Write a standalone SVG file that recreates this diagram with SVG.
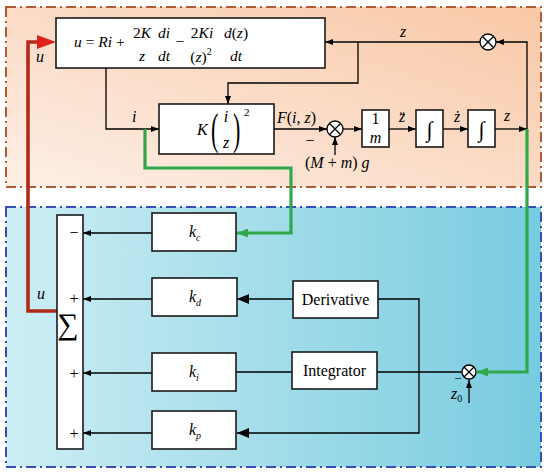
<svg xmlns="http://www.w3.org/2000/svg" width="550" height="476" viewBox="0 0 550 476">
<defs>
<linearGradient id="gTop" x1="0" y1="1" x2="1" y2="0">
<stop offset="0" stop-color="#fdefe6"/>
<stop offset="1" stop-color="#f9c8a6"/>
</linearGradient>
<linearGradient id="gBot" x1="0" y1="0" x2="1" y2="0">
<stop offset="0" stop-color="#cdeef4"/>
<stop offset="1" stop-color="#78cbdf"/>
</linearGradient>
<marker id="arr" markerUnits="userSpaceOnUse" markerWidth="8" markerHeight="6" refX="8" refY="3" orient="auto">
<path d="M0,0 L8,3 L0,6 z" fill="#000"/>
</marker>
<marker id="arrB" markerUnits="userSpaceOnUse" markerWidth="12" markerHeight="10" refX="12" refY="5" orient="auto">
<path d="M0,0 L12,5 L0,10 z" fill="#000"/>
</marker>
<marker id="arrG" markerUnits="userSpaceOnUse" markerWidth="11" markerHeight="9" refX="11" refY="4.5" orient="auto">
<path d="M0,0 L11,4.5 L0,9 z" fill="#2fa84a"/>
</marker>
</defs>
<style>
text{font-family:"Liberation Serif","Times New Roman","DejaVu Serif",serif;fill:#000;font-size:16px}
.eq{font-size:15.5px}
.it{font-style:italic}
.mid{text-anchor:middle}
.s10{font-size:10px}
.s11{font-size:11px}
.s13{font-size:13px}
.s16{font-size:16px}
.s20{font-size:22px}
.s28{font-size:30px}
.s42{font-size:44px}
.box{fill:#fff;stroke:#1a1a1a;stroke-width:1.6}
.ln{fill:none;stroke:#000;stroke-width:1.3}
.g{fill:none;stroke:#2fa84a;stroke-width:3.2}
.r{fill:none;stroke:#b02a1c;stroke-width:3.6}
.sum{fill:#fff;stroke:#000;stroke-width:1.3}
</style>

<g id="panel-plant">
<rect x="6" y="7" width="535" height="180" fill="url(#gTop)" stroke="#b05a36" stroke-width="2" stroke-dasharray="10 4 2 4"/>
</g>
<g id="panel-controller">
<rect x="6" y="207" width="535" height="260" fill="url(#gBot)" stroke="#3450b8" stroke-width="2" stroke-dasharray="10 4 2 4"/>
</g>

<g id="connectors">
<path class="ln" d="M527,129 V42 H496" marker-end="url(#arr)"/>
<path class="ln" d="M480,42 H325" marker-end="url(#arr)"/>
<path class="ln" d="M358,42 V83 H228 V104" marker-end="url(#arr)"/>
<path class="ln" d="M106,68 V129 H159" marker-end="url(#arr)"/>
<path class="ln" d="M274,129 H327" marker-end="url(#arr)"/>
<path class="ln" d="M343,129 H362" marker-end="url(#arr)"/>
<path class="ln" d="M389,129 H416" marker-end="url(#arr)"/>
<path class="ln" d="M443,129 H468" marker-end="url(#arr)"/>
<path class="ln" d="M495,129 H527" marker-end="url(#arr)"/>
<path class="ln" d="M335,155 V137" marker-end="url(#arr)"/>
<path class="ln" d="M152,233 H83" marker-end="url(#arr)"/>
<path class="ln" d="M152,299 H83" marker-end="url(#arr)"/>
<path class="ln" d="M152,373 H83" marker-end="url(#arr)"/>
<path class="ln" d="M152,433 H83" marker-end="url(#arr)"/>
<path class="ln" d="M293,299 H237" marker-end="url(#arrB)"/>
<path class="ln" d="M292,372 H236"/>
<path class="ln" d="M378,299 H419 V433 H237" marker-end="url(#arrB)"/>
<path class="ln" d="M377,372 H462"/>
<path class="ln" d="M469,403 V380" marker-end="url(#arr)"/>
<path class="g" d="M145,129 V168 H291 V233 H237" marker-end="url(#arrG)"/>
<path class="g" d="M527,129 V372 H477" marker-end="url(#arrG)"/>
<path class="r" d="M57,311 H28 V42 H38"/>
<path d="M56,42 L37,35 L37,49 z" fill="#e0201a"/>
</g>

<g id="eq-box">
<rect class="box" x="56" y="18" width="269" height="50"/>
<text class="eq" x="74" y="47"><tspan class="it">u</tspan> = <tspan class="it">Ri</tspan> +</text>
<text class="eq mid" x="142" y="38">2<tspan class="it">K</tspan></text>
<text class="eq mid it" x="142" y="61">z</text>
<text class="eq mid it" x="164" y="38">di</text>
<text class="eq mid it" x="164" y="61">dt</text>
<text class="eq mid" x="180" y="47">−</text>
<text class="eq mid" x="202" y="38">2<tspan class="it">Ki</tspan></text>
<text class="eq mid" x="201" y="62">(<tspan class="it">z</tspan>)<tspan class="s10" dy="-7">2</tspan></text>
<text class="eq mid" x="236" y="38"><tspan class="it">d</tspan>(<tspan class="it">z</tspan>)</text>
<text class="eq mid it" x="236" y="61">dt</text>
</g>

<g id="k-box">
<rect class="box" x="159" y="104" width="115" height="50"/>
<text class="it" x="197" y="135">K</text>
<text class="s42" transform="translate(211,144) scale(0.5,1)">(</text>
<text class="s42" transform="translate(233,144) scale(0.5,1)">)</text>
<text class="mid it" x="226" y="122">i</text>
<text class="mid it" x="226" y="148">z</text>
<text class="s11" x="244" y="116">2</text>
</g>

<g id="sum1">
<circle class="sum" cx="335" cy="129" r="8"/>
<path class="ln" d="M329.3,123.3 L340.7,134.7 M340.7,123.3 L329.3,134.7"/>
</g>
<g id="sum-top">
<circle class="sum" cx="488" cy="42" r="8"/>
<path class="ln" d="M482.3,36.3 L493.7,47.7 M493.7,36.3 L482.3,47.7"/>
</g>
<g id="sum-z0">
<circle class="sum" cx="469" cy="372" r="7"/>
<path class="ln" d="M464,367 L474,377 M474,367 L464,377"/>
</g>

<g id="inv-m">
<rect class="box" x="362" y="110" width="27" height="37"/>
<text class="mid" x="375.5" y="124">1</text>
<text class="mid it" x="375.5" y="143">m</text>
</g>
<g id="int1">
<rect class="box" x="416" y="110" width="27" height="37"/>
<text class="mid s20" x="429.5" y="137">∫</text>
</g>
<g id="int2">
<rect class="box" x="468" y="110" width="27" height="37"/>
<text class="mid s20" x="481.5" y="137">∫</text>
</g>

<g id="labels-top">
<text class="it" x="400" y="37">z</text>
<text class="it" x="36" y="62">u</text>
<text class="it" x="132" y="122">i</text>
<text x="277" y="123"><tspan class="it">F</tspan>(<tspan class="it">i</tspan>, <tspan class="it">z</tspan>)</text>
<text class="mid" x="310" y="146">−</text>
<text x="305" y="168">(<tspan class="it">M</tspan> + <tspan class="it">m</tspan>) <tspan class="it">g</tspan></text>
<text class="mid it" x="402" y="122">z&#776;</text>
<text class="mid it" x="457" y="122">z&#775;</text>
<text class="mid it" x="507" y="121">z</text>
</g>

<g id="sigma">
<rect class="box" x="57" y="215" width="26" height="234"/>
<text class="mid s28" x="68" y="334">∑</text>
<text class="mid" x="74" y="238">−</text>
<text class="mid" x="74" y="304">+</text>
<text class="mid" x="74" y="379">+</text>
<text class="mid" x="74" y="439">+</text>
<text class="it" x="37" y="299">u</text>
</g>

<g id="kc">
<rect class="box" x="152" y="213" width="84" height="38"/>
<text class="it" x="189" y="237">k<tspan class="s10" dy="4">c</tspan></text>
</g>
<g id="kd">
<rect class="box" x="152" y="278" width="85" height="38"/>
<text class="it" x="189" y="302">k<tspan class="s10" dy="4">d</tspan></text>
</g>
<g id="ki">
<rect class="box" x="152" y="353" width="84" height="38"/>
<text class="it" x="189" y="377">k<tspan class="s10" dy="4">i</tspan></text>
</g>
<g id="kp">
<rect class="box" x="152" y="411" width="84" height="38"/>
<text class="it" x="189" y="435">k<tspan class="s10" dy="4">p</tspan></text>
</g>
<g id="derivative">
<rect class="box" x="293" y="281" width="85" height="37"/>
<text class="mid" x="335.5" y="305">Derivative</text>
</g>
<g id="integrator">
<rect class="box" x="292" y="352" width="85" height="37"/>
<text class="mid" x="334.5" y="376">Integrator</text>
</g>
<g id="z0">
<text class="mid s13" x="458" y="383">−</text>
<text class="it" x="451" y="399">z<tspan class="s10" dy="3" font-style="normal">0</tspan></text>
</g>
</svg>
